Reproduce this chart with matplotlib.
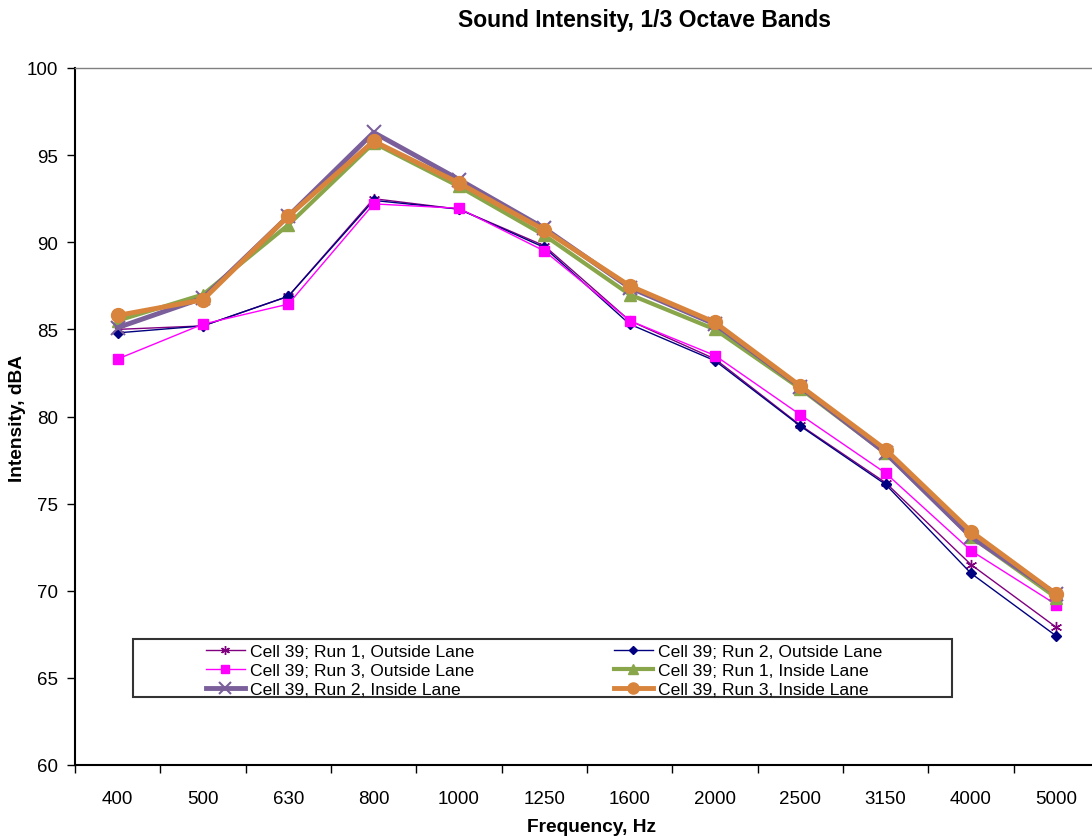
import matplotlib
matplotlib.use("Agg")
import matplotlib.pyplot as plt
from matplotlib.patches import Rectangle

plt.rcParams['font.family'] = ['Liberation Sans', 'DejaVu Sans']

freqs = ['400', '500', '630', '800', '1000', '1250', '1600', '2000', '2500', '3150', '4000', '5000']

run1_out = [85.0, 85.2, 86.9, 92.5, 91.9, 89.8, 85.5, 83.3, 79.5, 76.2, 71.5, 67.9]
run2_out = [84.8, 85.2, 86.9, 92.4, 91.9, 89.7, 85.3, 83.2, 79.45, 76.1, 71.0, 67.4]
run3_out = [83.3, 85.3, 86.45, 92.2, 91.95, 89.5, 85.5, 83.5, 80.1, 76.75, 72.3, 69.2]
run1_in = [85.5, 87.0, 91.0, 95.7, 93.2, 90.4, 87.0, 85.0, 81.6, 77.9, 73.1, 69.6]
run2_in = [85.1, 86.8, 91.5, 96.3, 93.6, 90.8, 87.4, 85.3, 81.7, 77.9, 73.1, 69.8]
run3_in = [85.8, 86.7, 91.5, 95.8, 93.4, 90.7, 87.5, 85.4, 81.75, 78.1, 73.4, 69.8]

labels = ['Cell 39; Run 1, Outside Lane', 'Cell 39; Run 2, Outside Lane',
          'Cell 39; Run 3, Outside Lane', 'Cell 39; Run 1, Inside Lane',
          'Cell 39, Run 2, Inside Lane', 'Cell 39, Run 3, Inside Lane']

W, H = 1092, 837
fig = plt.figure(figsize=(W / 100, H / 100), dpi=100)
# plot area in pixels: left 75, right 1099, top 69, bottom 766
ax = fig.add_axes([75 / W, 1 - 766 / H, 1024 / W, 697 / H])

x = list(range(len(freqs)))
l1, = ax.plot(x, run1_out, color='#800080', lw=1, marker=(6, 2, 0), ms=8, mew=1)
l2, = ax.plot(x, run2_out, color='#000080', lw=1, marker='D', ms=5)
l3, = ax.plot(x, run3_out, color='#ff00ff', lw=1, marker='s', ms=7)
l4, = ax.plot(x, run1_in, color='#8aa64a', lw=3, marker='^', ms=9)
l5, = ax.plot(x, run2_in, color='#7a5f9a', lw=3.5, marker='x', ms=10, mew=1.5)
l6, = ax.plot(x, run3_in, color='#d9843c', lw=3.5, marker='o', ms=10)

ax.set_xlim(-0.5, len(freqs) - 0.5)
ax.set_ylim(60, 100)
ax.set_yticks(range(60, 101, 5))
ax.set_xticks(x)
ax.set_xticklabels(freqs)
ax.set_xticks([i - 0.5 for i in range(len(freqs) + 1)], minor=True)
ax.tick_params(axis='x', which='major', length=0, pad=18, labelsize=13.5)
ax.tick_params(axis='x', which='minor', length=6, width=1, direction='out')
ax.tick_params(axis='y', length=6, width=1, direction='out', labelsize=13.5, pad=6)

ax.spines['right'].set_visible(False)
ax.spines['top'].set_color('#808080')
ax.spines['top'].set_linewidth(1)
ax.spines['left'].set_linewidth(1.5)
ax.spines['bottom'].set_linewidth(1.5)

fig.text(592 / W, 1 - 828 / H, 'Frequency, Hz', ha='center', va='center',
         fontsize=13.8, fontweight='bold')
fig.text(18 / W, 1 - 419 / H, 'Intensity, dBA', ha='center', va='center', rotation=90,
         fontsize=13.8, fontweight='bold')
fig.text(644 / W, 1 - 21 / H, 'Sound Intensity, 1/3 Octave Bands', ha='center', va='center',
         fontsize=16.5, fontweight='bold')

# legend box
fig.patches.append(Rectangle((133 / W, 1 - 698 / H), (952 - 133) / W, 58 / H,
                             transform=fig.transFigure, fill=False, edgecolor='#333333', lw=1.5))
handles = [l1, l3, l5, l2, l4, l6]
leg_labels = [labels[0], labels[2], labels[4], labels[1], labels[3], labels[5]]
fig.legend(handles, leg_labels, loc='upper left', bbox_to_anchor=(206 / W, 1 - 645 / H),
           ncol=2, frameon=False, fontsize=12.6, handlelength=2.2, handletextpad=0.3,
           columnspacing=8.0, labelspacing=0.2, borderpad=0, borderaxespad=0, markerscale=0.8)

fig.savefig('out.png', dpi=100)
